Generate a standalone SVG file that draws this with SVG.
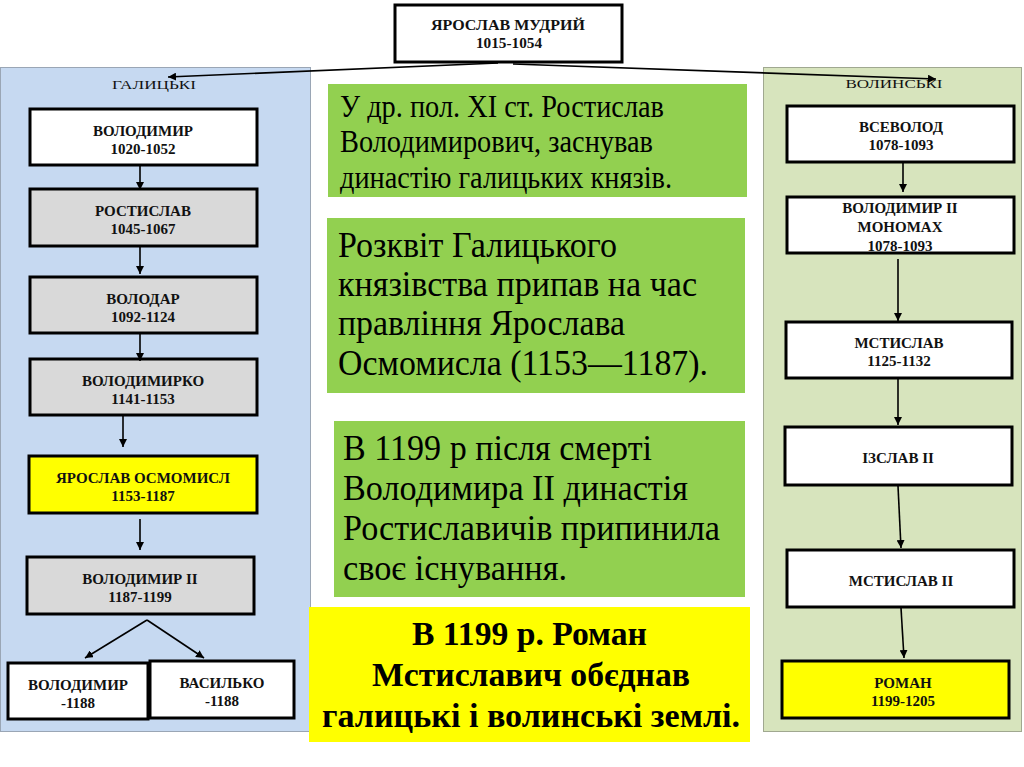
<svg xmlns="http://www.w3.org/2000/svg" width="1024" height="767" viewBox="0 0 1024 767">
<defs>
<marker id="ah" viewBox="0 0 10 10" refX="10" refY="5" markerWidth="8" markerHeight="8" markerUnits="userSpaceOnUse" orient="auto">
<path d="M0,0 L10,5 L0,10 z" fill="#000"/>
</marker>
<style>
.node{stroke:#000;stroke-width:3}
.w{fill:#fff}.g{fill:#d9d9d9}.y{fill:#ffff00}
.nt{font-family:"Liberation Serif",serif;font-weight:bold;font-size:15px;text-anchor:middle;fill:#111}
.hd{font-family:"Liberation Serif",serif;font-size:13px;text-anchor:middle;fill:#111}
.bt{font-family:"Liberation Serif",serif;fill:#000}
.con{stroke:#000;stroke-width:1.6;fill:none;marker-end:url(#ah)}
</style>
</defs>
<rect width="1024" height="767" fill="#fff"/>
<g id="panel-left">
<rect x="0.5" y="67.5" width="310" height="664" fill="#c6d9f1" stroke="#9aa6b5" stroke-width="1"/>
<text class="hd" x="154" y="89" textLength="84" lengthAdjust="spacingAndGlyphs">ГАЛИЦЬКІ</text>
</g>
<g id="panel-right">
<rect x="763.5" y="67.5" width="258" height="664" fill="#d7e4bd" stroke="#a0a890" stroke-width="1"/>
<text class="hd" x="894" y="88" textLength="97" lengthAdjust="spacingAndGlyphs">ВОЛИНСЬКІ</text>
</g>
<g id="n-yaroslav-mudryi">
<rect class="node w" x="395" y="5" width="227" height="57"/>
<text class="nt" x="508" y="30" font-size="14" textLength="154" lengthAdjust="spacingAndGlyphs">ЯРОСЛАВ МУДРИЙ</text>
<text class="nt" x="509" y="48" font-size="14" textLength="66" lengthAdjust="spacingAndGlyphs">1015-1054</text>
</g>
<g id="n-volodymyr">
<rect class="node w" x="30" y="109" width="227" height="56"/>
<text class="nt" x="143" y="136">ВОЛОДИМИР</text>
<text class="nt" x="143" y="154">1020-1052</text>
</g>
<g id="n-rostyslav">
<rect class="node g" x="30" y="189" width="227" height="57"/>
<text class="nt" x="143" y="216">РОСТИСЛАВ</text>
<text class="nt" x="143" y="234">1045-1067</text>
</g>
<g id="n-volodar">
<rect class="node g" x="30" y="277" width="227" height="56"/>
<text class="nt" x="143" y="304">ВОЛОДАР</text>
<text class="nt" x="143" y="322">1092-1124</text>
</g>
<g id="n-volodymyrko">
<rect class="node g" x="30" y="359" width="227" height="56"/>
<text class="nt" x="143" y="386">ВОЛОДИМИРКО</text>
<text class="nt" x="143" y="404">1141-1153</text>
</g>
<g id="n-osmomysl">
<rect class="node y" x="29" y="456" width="228" height="57"/>
<text class="nt" x="143" y="483">ЯРОСЛАВ ОСМОМИСЛ</text>
<text class="nt" x="143" y="501">1153-1187</text>
</g>
<g id="n-volodymyr2">
<rect class="node g" x="27" y="557" width="227" height="57"/>
<text class="nt" x="140" y="584">ВОЛОДИМИР II</text>
<text class="nt" x="140" y="602">1187-1199</text>
</g>
<g id="n-volodymyr-1188">
<rect class="node w" x="8" y="663" width="140" height="56"/>
<text class="nt" x="78" y="690">ВОЛОДИМИР</text>
<text class="nt" x="78" y="708">-1188</text>
</g>
<g id="n-vasylko">
<rect class="node w" x="150" y="661" width="144" height="57"/>
<text class="nt" x="222" y="688">ВАСИЛЬКО</text>
<text class="nt" x="222" y="706">-1188</text>
</g>
<g id="n-vsevolod">
<rect class="node w" x="787" y="106" width="227" height="56"/>
<text class="nt" x="901" y="132">ВСЕВОЛОД</text>
<text class="nt" x="901" y="150">1078-1093</text>
</g>
<g id="n-monomakh">
<rect class="node w" x="787" y="197" width="227" height="56"/>
<text class="nt" x="900" y="213">ВОЛОДИМИР II</text>
<text class="nt" x="900" y="232">МОНОМАХ</text>
<text class="nt" x="900" y="251">1078-1093</text>
</g>
<g id="n-mstyslav">
<rect class="node w" x="786" y="322" width="226" height="56"/>
<text class="nt" x="899" y="348">МСТИСЛАВ</text>
<text class="nt" x="899" y="366">1125-1132</text>
</g>
<g id="n-izyaslav">
<rect class="node w" x="785" y="427" width="227" height="58"/>
<text class="nt" x="898" y="463">ІЗСЛАВ II</text>
</g>
<g id="n-mstyslav2">
<rect class="node w" x="787" y="550" width="227" height="57"/>
<text class="nt" x="901" y="586">МСТИСЛАВ II</text>
</g>
<g id="n-roman">
<rect class="node y" x="782" y="661" width="227" height="57"/>
<text class="nt" x="903" y="688">РОМАН</text>
<text class="nt" x="903" y="706">1199-1205</text>
</g>
<g id="note-1">
<rect x="328" y="84" width="419" height="113" fill="#92d050"/>
<text class="bt" x="340" y="117" font-size="32" textLength="324" lengthAdjust="spacingAndGlyphs">У др. пол. XI ст. Ростислав</text>
<text class="bt" x="340" y="152" font-size="32" textLength="313" lengthAdjust="spacingAndGlyphs">Володимирович, заснував</text>
<text class="bt" x="340" y="188" font-size="32" textLength="332" lengthAdjust="spacingAndGlyphs">династію галицьких князів.</text>
</g>
<g id="note-2">
<rect x="327" y="218" width="418" height="175" fill="#92d050"/>
<text class="bt" x="338" y="257" font-size="36" textLength="279" lengthAdjust="spacingAndGlyphs">Розквіт Галицького</text>
<text class="bt" x="338" y="296" font-size="36" textLength="359" lengthAdjust="spacingAndGlyphs">князівства припав на час</text>
<text class="bt" x="338" y="335" font-size="36" textLength="287" lengthAdjust="spacingAndGlyphs">правління Ярослава</text>
<text class="bt" x="338" y="375" font-size="36" textLength="370" lengthAdjust="spacingAndGlyphs">Осмомисла (1153—1187).</text>
</g>
<g id="note-3">
<rect x="334" y="421" width="411" height="176" fill="#92d050"/>
<text class="bt" x="343" y="460" font-size="36" textLength="309" lengthAdjust="spacingAndGlyphs">В 1199 р після смерті</text>
<text class="bt" x="343" y="500" font-size="36" textLength="345" lengthAdjust="spacingAndGlyphs">Володимира II династія</text>
<text class="bt" x="343" y="540" font-size="36" textLength="377" lengthAdjust="spacingAndGlyphs">Ростиславичів припинила</text>
<text class="bt" x="343" y="580" font-size="36" textLength="224" lengthAdjust="spacingAndGlyphs">своє існування.</text>
</g>
<g id="note-4">
<rect x="309" y="607" width="441" height="135" fill="#ffff00"/>
<text class="bt" x="412" y="645" font-size="33" font-weight="bold" textLength="235" lengthAdjust="spacingAndGlyphs">В 1199 р. Роман</text>
<text class="bt" x="372" y="686" font-size="33" font-weight="bold" textLength="318" lengthAdjust="spacingAndGlyphs">Мстиславич обєднав</text>
<text class="bt" x="322" y="727" font-size="33" font-weight="bold" textLength="418" lengthAdjust="spacingAndGlyphs">галицькі і волинські землі.</text>
</g>
<g id="connectors">
<line class="con" x1="498" y1="63" x2="168" y2="77"/>
<line class="con" x1="513" y1="64" x2="936" y2="79"/>
<line class="con" x1="140" y1="166" x2="140" y2="190"/>
<line class="con" x1="140" y1="247" x2="140" y2="274"/>
<line class="con" x1="140" y1="334" x2="140" y2="361"/>
<line class="con" x1="123" y1="416" x2="123" y2="447"/>
<line class="con" x1="140" y1="519" x2="140" y2="550"/>
<line class="con" x1="147" y1="620" x2="85" y2="658"/>
<line class="con" x1="147" y1="620" x2="204" y2="658"/>
<line class="con" x1="903" y1="163" x2="903" y2="192"/>
<line class="con" x1="898" y1="259" x2="898" y2="321"/>
<line class="con" x1="898" y1="379" x2="898" y2="425"/>
<line class="con" x1="898" y1="486" x2="901" y2="548"/>
<line class="con" x1="901" y1="608" x2="904" y2="658"/>
</g>
</svg>
